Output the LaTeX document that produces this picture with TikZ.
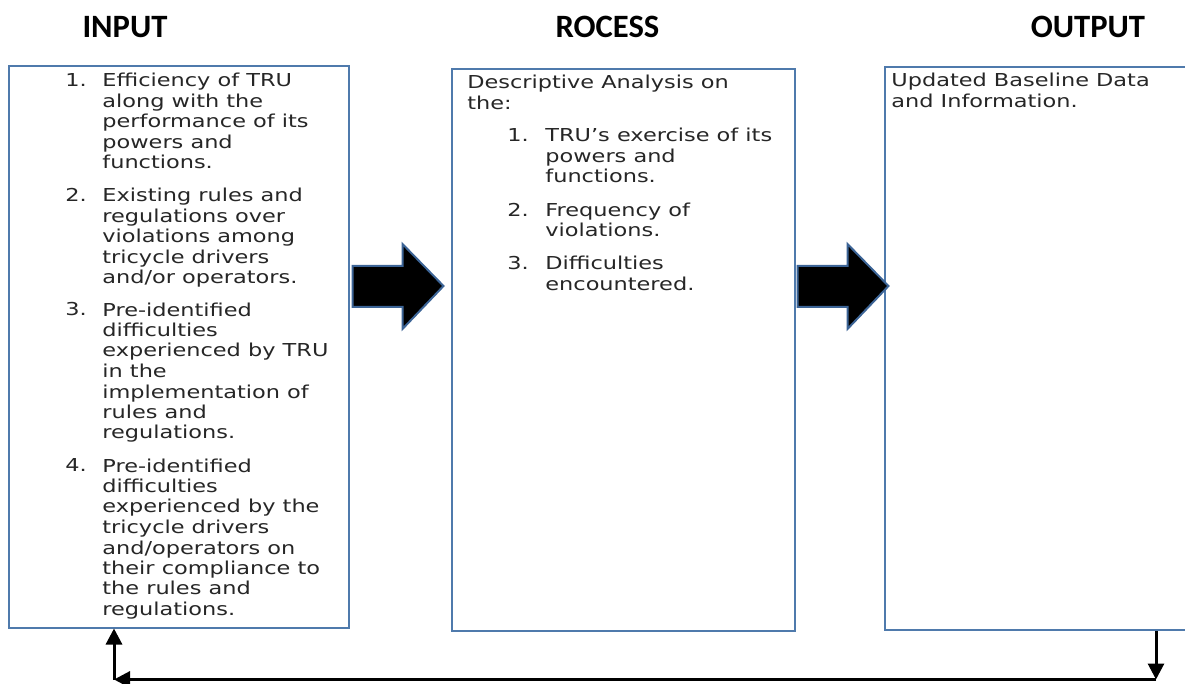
\documentclass[tikz,border=0pt]{standalone}
\usepackage{fontspec}
\usetikzlibrary{arrows.meta}
\newfontfamily\bodyfont[FakeStretch=1.26]{DejaVu Sans}
\newfontfamily\titlefont{Carlito}
\definecolor{boxblue}{RGB}{79,122,172}
\definecolor{arrowblue}{RGB}{60,100,150}
\definecolor{txt}{RGB}{38,38,38}
\begin{document}
\begin{tikzpicture}[x=0.5pt,y=-0.5pt,
  box/.style={draw=boxblue,line width=1pt,fill=white,rectangle,anchor=north west,inner sep=0pt},
  title/.style={font=\titlefont\bfseries\fontsize{16.3}{18}\selectfont,anchor=base,inner sep=0pt,text=black},
  body/.style={font=\bodyfont\fontsize{8.9}{10.25}\selectfont,anchor=base west,align=left,inner sep=0pt,text=txt},
  blockarrow/.style={fill=black,draw=arrowblue,line width=1pt,line join=miter},
  fb/.style={line width=1.5pt,-{Triangle[length=8pt,width=8pt]}}]
\useasboundingbox (0,0) rectangle (1185,684);
% titles
\node[title] (tin) at (125,37.5) {INPUT};
\node[title] (tpr) at (607.5,37.5) {ROCESS};
\node[title] (tout) at (1088,37.5) {OUTPUT};
% boxes
\node[box,minimum width=170pt,minimum height=280.5pt] (in) at (8,65.5) {};
\node[box,minimum width=171.5pt,minimum height=281pt] (pr) at (451,68) {};
\node[box,minimum width=160pt,minimum height=281.5pt] (out) at (884,66) {};
% input text (anchor is the baseline of the last line)
\node[body] (n1) at (65,87) {1.};
\node[body] (i1) at (102,169) {Efficiency of TRU\\along with the\\performance of its\\powers and\\functions.};
\node[body] (n2) at (65,202) {2.};
\node[body] (i2) at (102,284) {Existing rules and\\regulations over\\violations among\\tricycle drivers\\and/or operators.};
\node[body] (n3) at (65,316) {3.};
\node[body] (i3) at (102,439) {Pre-identified\\difficulties\\experienced by TRU\\in the\\implementation of\\rules and\\regulations.};
\node[body] (n4) at (65,472) {4.};
\node[body] (i4) at (102,615.5) {Pre-identified\\difficulties\\experienced by the\\tricycle drivers\\and/operators on\\their compliance to\\the rules and\\regulations.};
% process text
\node[body] (ph) at (467,109.5) {Descriptive Analysis on\\the:};
\node[body] (m1) at (507,142) {1.};
\node[body] (p1) at (545,183) {TRU’s exercise of its\\powers and\\functions.};
\node[body] (m2) at (507,216.5) {2.};
\node[body] (p2) at (545,237) {Frequency of\\violations.};
\node[body] (m3) at (507,270) {3.};
\node[body] (p3) at (545,290.5) {Difficulties\\encountered.};
% output text
\node[body] (o1) at (891,107.5) {Updated Baseline Data\\and Information.};
% block arrows
\draw[blockarrow] (352.5,266) -- (402.5,266) -- (402.5,244) -- (443.5,286) -- (402.5,329) -- (402.5,307) -- (352.5,307) -- cycle;
\draw[blockarrow] (797.5,266) -- (847.5,266) -- (847.5,244) -- (888.5,286) -- (847.5,329) -- (847.5,307) -- (797.5,307) -- cycle;
% feedback
\coordinate (c1) at (1156,679.5);
\coordinate (c2) at (114,679.5);
\draw[fb] (out.south west -| c1) -- (c1);
\draw[fb] (c1) -- (c2);
\draw[fb] (c2) -- (in.south west -| c2);
\end{tikzpicture}
\end{document}
